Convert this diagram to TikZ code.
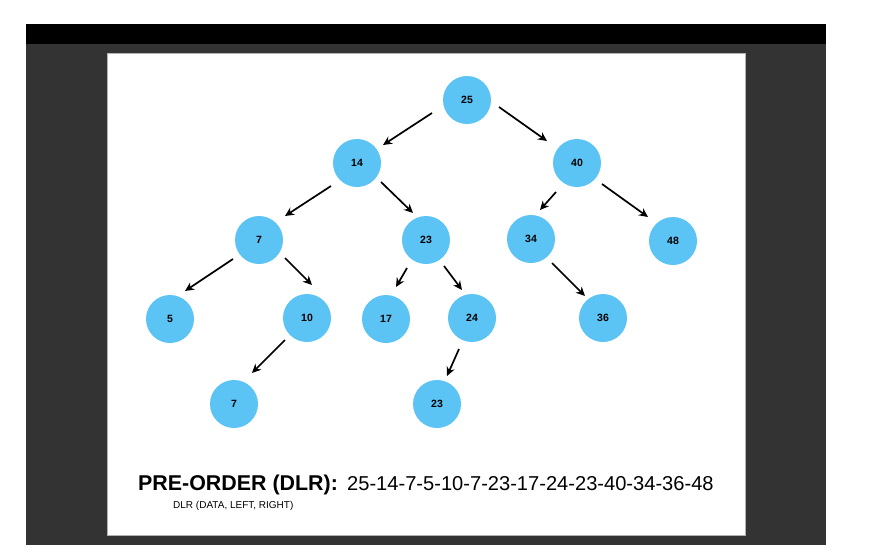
\documentclass[tikz,border=0pt]{standalone}
\usepackage{fontspec}
\setmainfont{Liberation Sans}
\usetikzlibrary{arrows.meta,calc}
\definecolor{nodeblue}{HTML}{5BC4F5}
\definecolor{darkbg}{HTML}{333333}
\tikzset{
  tnode/.style={circle,fill=nodeblue,minimum size=48pt,inner sep=0pt,font=\fontsize{10.5}{12}\selectfont\bfseries},
  edge/.style={-{Stealth[length=9pt,width=8.5pt]},line width=1.7pt}
}
\begin{document}
\begin{tikzpicture}[x=1pt,y=-1pt]
\useasboundingbox (0,0) rectangle (873,557);
\fill[white] (0,0) rectangle (873,557);
\fill[black] (26,24) rectangle (826,44);
\fill[darkbg] (26,44) rectangle (826,545);
\fill[white,draw=gray!60,line width=0.6pt] (107,53) rectangle (745,535);
\node[tnode] (n25) at (467,100) {25};
\node[tnode] (n14) at (357,163) {14};
\node[tnode] (n40) at (577,163) {40};
\node[tnode] (n7) at (259,240) {7};
\node[tnode] (n23) at (426,240) {23};
\node[tnode] (n34) at (531,239) {34};
\node[tnode] (n48) at (673,241) {48};
\node[tnode] (n5) at (170,319) {5};
\node[tnode] (n10) at (307,318) {10};
\node[tnode] (n17) at (386,319) {17};
\node[tnode] (n24) at (472,318) {24};
\node[tnode] (n36) at (603,318) {36};
\node[tnode] (n7b) at (234,404) {7};
\node[tnode] (n23b) at (437,404) {23};
\draw[edge] ($(n25)+(-35,13)$) -- ($(n14)+(26,-18)$);
\draw[edge] ($(n25)+(32,7)$) -- ($(n40)+(-30,-22)$);
\draw[edge] ($(n14)+(-26,23)$) -- ($(n7)+(26,-24)$);
\draw[edge] ($(n14)+(24,19)$) -- ($(n23)+(-13,-27)$);
\draw[edge] ($(n40)+(-21,29)$) -- ($(n34)+(9,-29)$);
\draw[edge] ($(n40)+(25,21)$) -- ($(n48)+(-25,-24)$);
\draw[edge] ($(n7)+(-26,19)$) -- ($(n5)+(15,-28)$);
\draw[edge] ($(n7)+(26,18)$) -- ($(n10)+(5,-33)$);
\draw[edge] ($(n23)+(-19,28)$) -- ($(n17)+(10,-32)$);
\draw[edge] ($(n23)+(18,26)$) -- ($(n24)+(-10,-28)$);
\draw[edge] ($(n34)+(21,24)$) -- ($(n36)+(-18,-22)$);
\draw[edge] ($(n10)+(-22,22)$) -- ($(n7b)+(18,-31)$);
\draw[edge] ($(n24)+(-13,31)$) -- ($(n23b)+(10,-28)$);
\node[anchor=base west,inner sep=0pt,font=\fontsize{21.4}{24}\selectfont\bfseries] (title) at (138,490) {PRE-ORDER (DLR):};
\node[anchor=base west,inner sep=0pt,font=\fontsize{20.1}{24}\selectfont] (seq) at (347,490) {25-14-7-5-10-7-23-17-24-23-40-34-36-48};
\node[anchor=base west,inner sep=0pt,font=\fontsize{10}{12}\selectfont] (sub) at (173,508) {DLR (DATA, LEFT, RIGHT)};
\end{tikzpicture}
\end{document}
